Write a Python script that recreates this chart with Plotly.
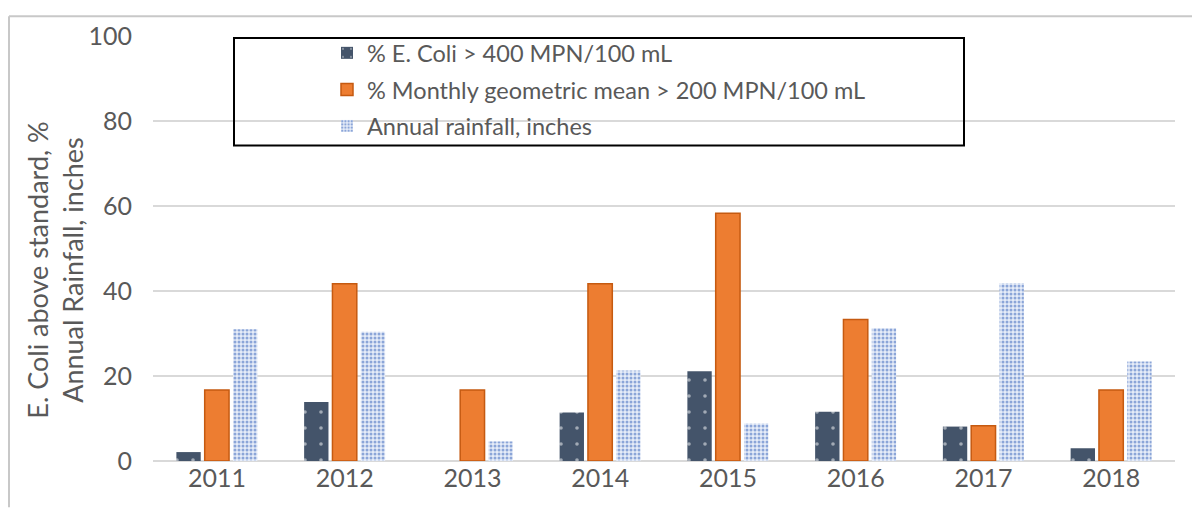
import plotly.graph_objects as go

years = ["2011", "2012", "2013", "2014", "2015", "2016", "2017", "2018"]
ecoli_400 = [2.1, 13.9, 0, 11.4, 21.1, 11.6, 8.1, 3.0]
geomean_200 = [16.7, 41.7, 16.7, 41.7, 58.3, 33.3, 8.3, 16.7]
rainfall = [31.0, 30.4, 4.6, 21.3, 8.8, 31.3, 41.8, 23.4]

names = ["% E. Coli > 400 MPN/100 mL",
         "% Monthly geometric mean > 200 MPN/100 mL",
         "Annual rainfall, inches"]
y_title = "E. Coli above standard, %<br>Annual Rainfall, inches"

FONT = "Lato"
GRAY = "#595959"

OFF = 8  # page body offset
W, H = 1192, 500
L, R, T, B = 145, 25, 22, 47
pw, ph = W - L - R, H - T - B


def px(x):
    return (x - OFF - L) / pw


def py(y):
    return (H - B - (y - OFF)) / ph


fig = go.Figure()
fig.add_trace(go.Bar(
    x=years, y=ecoli_400, name=names[0], legendgroup="a",
    marker=dict(color="#44546A", line=dict(color="#44546A", width=0),
                pattern=dict(shape=".", fgcolor="white", bgcolor="#44546A",
                             size=16, solidity=0.04)),
))
fig.add_trace(go.Bar(
    x=years, y=geomean_200, name=names[1], legendgroup="b",
    marker=dict(color="#ED7D31", line=dict(color="#C55A11", width=1.5)),
))
fig.add_trace(go.Bar(
    x=years, y=rainfall, name=names[2], legendgroup="c",
    marker=dict(color="white", line=dict(color="rgba(0,0,0,0)", width=0),
                pattern=dict(shape=".", fgcolor="#2F5DB8", bgcolor="#E6ECF8",
                             size=4, solidity=0.45)),
))

fig.update_layout(
    width=W, height=H,
    margin=dict(l=L, r=R, t=T, b=B),
    paper_bgcolor="white", plot_bgcolor="white",
    barmode="group", bargap=0.335, bargroupgap=0.14,
    font=dict(family=FONT, color=GRAY, size=22),
    showlegend=True,
    legend=dict(x=px(327), y=py(25), xanchor="left", yanchor="top",
                bgcolor="rgba(0,0,0,0)", borderwidth=0,
                font=dict(family=FONT, size=23.5, color=GRAY),
                tracegroupgap=3, itemwidth=30),
    xaxis=dict(showgrid=False, showline=False, ticks="",
               tickfont=dict(family=FONT, size=25, color=GRAY)),
    yaxis=dict(range=[0, 100], dtick=20, showgrid=True, gridcolor="#D9D9D9",
               gridwidth=1.5, zeroline=True, zerolinecolor="#D9D9D9",
               zerolinewidth=1.5, showline=False, ticks="",
               ticklabelstandoff=20,
               tickfont=dict(family=FONT, size=25, color=GRAY)),
    annotations=[
        dict(text=y_title, textangle=-90, xref="paper", yref="paper",
             x=px(55), y=py(268), xanchor="center", yanchor="middle",
             showarrow=False, align="center",
             font=dict(family=FONT, size=27, color=GRAY)),
    ],
    shapes=[
        dict(type="rect", xref="paper", yref="paper",
             x0=px(234), x1=px(964), y0=py(141), y1=py(32),
             line=dict(color="black", width=2), fillcolor="rgba(0,0,0,0)",
             layer="above"),
        dict(type="line", xref="paper", yref="paper",
             x0=px(9), x1=px(1192), y0=py(10), y1=py(10),
             line=dict(color="#C8C8C8", width=2)),
        dict(type="line", xref="paper", yref="paper",
             x0=px(9), x1=px(9), y0=py(10), y1=py(508),
             line=dict(color="#C8C8C8", width=2)),
    ],
)

fig.write_html("out.html")
